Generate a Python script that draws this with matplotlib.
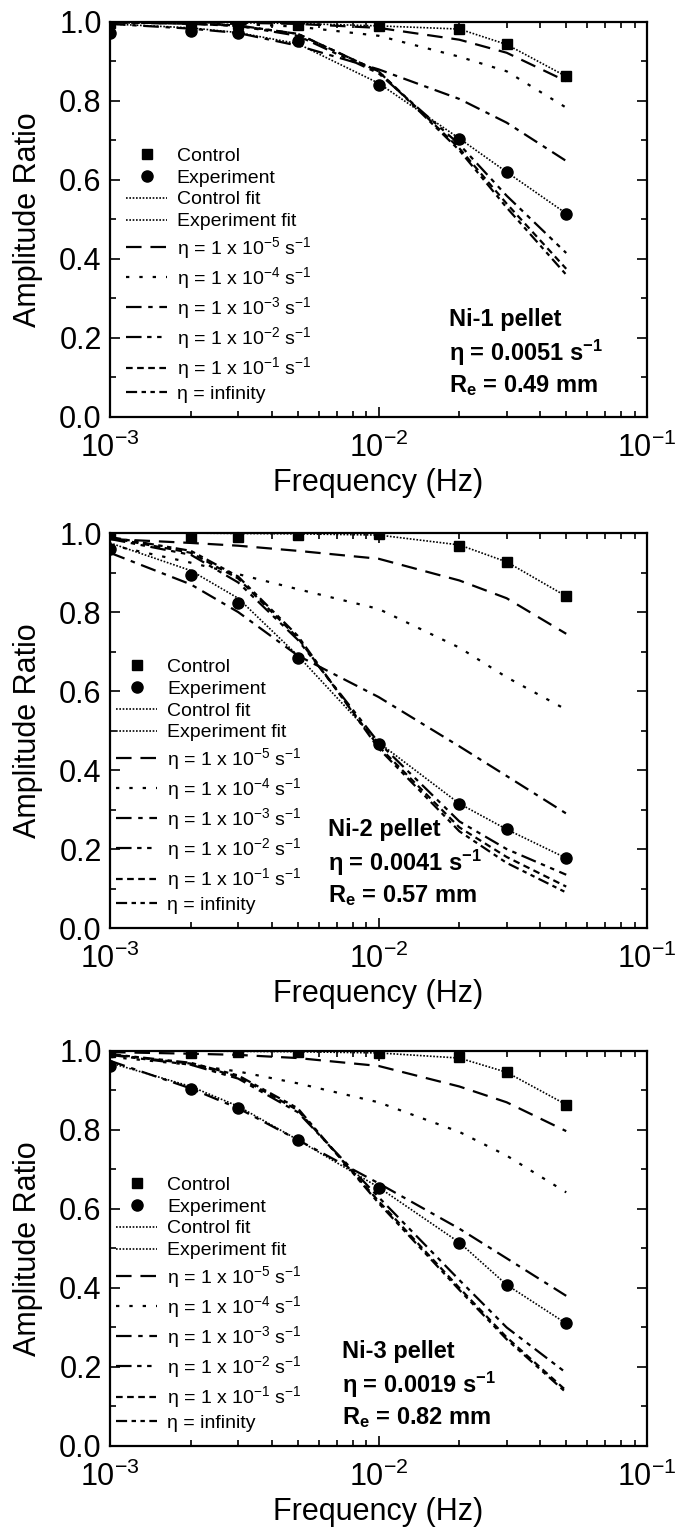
import matplotlib
matplotlib.use('Agg')
from matplotlib import pyplot as plt
from matplotlib.ticker import LogLocator, MultipleLocator, FixedLocator, FixedFormatter, NullFormatter

plt.rcParams['font.family'] = ['Liberation Sans', 'DejaVu Sans']
plt.rcParams['mathtext.fontset'] = 'custom'
plt.rcParams['mathtext.rm'] = 'Liberation Sans'
plt.rcParams['mathtext.it'] = 'Liberation Sans:italic'
plt.rcParams['mathtext.bf'] = 'Liberation Sans:bold'

freq = [0.001, 0.002, 0.003, 0.005, 0.01, 0.02, 0.03, 0.05]

# Ni-1 pellet
ni1_control = [0.998, 0.997, 0.996, 0.993, 0.99, 0.982, 0.943, 0.862]
ni1_exp = [0.972, 0.978, 0.972, 0.952, 0.84, 0.704, 0.62, 0.515]
ni1_control_fit = [1.0, 0.999, 0.998, 0.996, 0.99, 0.982, 0.943, 0.862]
ni1_exp_fit = [0.995, 0.985, 0.973, 0.945, 0.845, 0.705, 0.62, 0.515]
ni1_eta5 = [1.0, 0.999, 0.998, 0.995, 0.985, 0.955, 0.922, 0.85]
ni1_eta4 = [0.999, 0.997, 0.995, 0.988, 0.965, 0.912, 0.875, 0.783]
ni1_eta3 = [0.995, 0.983, 0.972, 0.94, 0.88, 0.805, 0.745, 0.648]
ni1_eta2 = [0.999, 0.995, 0.99, 0.965, 0.87, 0.69, 0.56, 0.415]
ni1_eta1 = [0.999, 0.996, 0.99, 0.97, 0.875, 0.68, 0.54, 0.375]
ni1_etainf = [0.999, 0.996, 0.991, 0.97, 0.875, 0.675, 0.53, 0.36]

# Ni-2 pellet
ni2_control = [0.998, 0.99, 0.99, 0.995, 0.997, 0.967, 0.927, 0.84]
ni2_exp = [0.96, 0.894, 0.822, 0.683, 0.465, 0.313, 0.25, 0.177]
ni2_control_fit = [1.0, 1.0, 0.999, 0.998, 0.995, 0.97, 0.927, 0.84]
ni2_exp_fit = [0.975, 0.905, 0.835, 0.69, 0.47, 0.315, 0.25, 0.177]
ni2_eta5 = [0.985, 0.975, 0.968, 0.955, 0.935, 0.88, 0.835, 0.745]
ni2_eta4 = [0.97, 0.925, 0.896, 0.858, 0.808, 0.71, 0.635, 0.553]
ni2_eta3 = [0.95, 0.87, 0.8, 0.69, 0.585, 0.46, 0.385, 0.29]
ni2_eta2 = [0.985, 0.945, 0.875, 0.73, 0.47, 0.27, 0.2, 0.135]
ni2_eta1 = [0.988, 0.95, 0.885, 0.735, 0.46, 0.255, 0.18, 0.105]
ni2_etainf = [0.99, 0.955, 0.89, 0.74, 0.455, 0.245, 0.165, 0.09]

# Ni-3 pellet
ni3_control = [0.998, 0.995, 0.997, 0.997, 0.995, 0.984, 0.946, 0.864]
ni3_exp = [0.961, 0.903, 0.855, 0.775, 0.653, 0.515, 0.408, 0.31]
ni3_control_fit = [1.0, 1.0, 0.999, 0.998, 0.995, 0.982, 0.946, 0.864]
ni3_exp_fit = [0.97, 0.91, 0.86, 0.775, 0.655, 0.515, 0.408, 0.31]
ni3_eta5 = [0.997, 0.993, 0.99, 0.982, 0.962, 0.91, 0.87, 0.797]
ni3_eta4 = [0.985, 0.965, 0.948, 0.918, 0.87, 0.795, 0.735, 0.642]
ni3_eta3 = [0.975, 0.905, 0.855, 0.775, 0.665, 0.55, 0.475, 0.38]
ni3_eta2 = [0.99, 0.965, 0.93, 0.845, 0.63, 0.42, 0.3, 0.185]
ni3_eta1 = [0.991, 0.968, 0.935, 0.85, 0.62, 0.4, 0.275, 0.14]
ni3_etainf = [0.992, 0.97, 0.938, 0.855, 0.615, 0.395, 0.27, 0.135]

panels = [
    ('Ni-1 pellet', '0.0051', '0.49',
     [ni1_control, ni1_exp, ni1_control_fit, ni1_exp_fit,
      ni1_eta5, ni1_eta4, ni1_eta3, ni1_eta2, ni1_eta1, ni1_etainf]),
    ('Ni-2 pellet', '0.0041', '0.57',
     [ni2_control, ni2_exp, ni2_control_fit, ni2_exp_fit,
      ni2_eta5, ni2_eta4, ni2_eta3, ni2_eta2, ni2_eta1, ni2_etainf]),
    ('Ni-3 pellet', '0.0019', '0.82',
     [ni3_control, ni3_exp, ni3_control_fit, ni3_exp_fit,
      ni3_eta5, ni3_eta4, ni3_eta3, ni3_eta2, ni3_eta1, ni3_etainf]),
]

model_labels = [r'η = 1 x 10$^{\mathregular{-5}}$ s$^{\mathregular{-1}}$',
                r'η = 1 x 10$^{\mathregular{-4}}$ s$^{\mathregular{-1}}$',
                r'η = 1 x 10$^{\mathregular{-3}}$ s$^{\mathregular{-1}}$',
                r'η = 1 x 10$^{\mathregular{-2}}$ s$^{\mathregular{-1}}$',
                r'η = 1 x 10$^{\mathregular{-1}}$ s$^{\mathregular{-1}}$',
                'η = infinity']
model_styles = [(0, (7, 4)),
                (0, (1.5, 4.5)),
                (0, (7, 3, 2, 3)),
                (0, (7, 2.5, 2, 2.5, 2, 2.5)),
                (0, (3, 2)),
                (0, (5, 2, 2, 2, 2, 2))]

fig = plt.figure(figsize=(6.75, 15.34), dpi=100)
rects = [[0.163, 0.7282, 0.7956, 0.2575],
         [0.163, 0.3950, 0.7956, 0.2575],
         [0.163, 0.0574, 0.7956, 0.2575]]
legend_x = [0.03, 0.012, 0.012]
text_x = [0.632, 0.406, 0.432]
text_y = [(0.247, 0.163, 0.079), (0.25, 0.166, 0.082), (0.24, 0.155, 0.071)]

for i, (name, eta, re, series) in enumerate(panels):
    ax = fig.add_axes(rects[i])
    control, exp, control_fit, exp_fit = series[:4]
    models = series[4:]

    ax.plot(freq, control, 's', color='black', markersize=7, label='Control', zorder=5)
    ax.plot(freq, exp, 'o', color='black', markersize=8, label='Experiment', zorder=5)
    ax.plot(freq, control_fit, color='black', lw=1.2, linestyle=(0, (1, 1)), label='Control fit')
    ax.plot(freq, exp_fit, color='black', lw=1.2, linestyle=(0, (1, 1)), label='Experiment fit')
    for vals, lab, ls in zip(models, model_labels, model_styles):
        ax.plot(freq, vals, color='black', lw=1.6, linestyle=ls, label=lab)

    ax.set_xscale('log')
    ax.set_xlim(1e-3, 1e-1)
    ax.set_ylim(0, 1.0)
    ax.xaxis.set_major_locator(FixedLocator([1e-3, 1e-2, 1e-1]))
    ax.xaxis.set_major_formatter(FixedFormatter([r'10$^{\mathregular{-3}}$',
                                                 r'10$^{\mathregular{-2}}$',
                                                 r'10$^{\mathregular{-1}}$']))
    ax.xaxis.set_minor_locator(LogLocator(base=10, subs=range(2, 10)))
    ax.xaxis.set_minor_formatter(NullFormatter())
    ax.yaxis.set_major_locator(MultipleLocator(0.2))
    ax.yaxis.set_minor_locator(MultipleLocator(0.1))
    ax.yaxis.set_major_formatter(plt.FormatStrFormatter('%.1f'))
    ax.tick_params(which='both', direction='in', top=True, right=True, width=1.2)
    ax.tick_params(which='major', length=7, labelsize=22, pad=6)
    ax.tick_params(axis='x', which='major', pad=11)
    ax.tick_params(which='minor', length=4)
    for sp in ax.spines.values():
        sp.set_linewidth(1.6)

    ax.set_xlabel('Frequency (Hz)', fontsize=22, labelpad=3)
    ax.set_ylabel('Amplitude Ratio', fontsize=22)
    ax.yaxis.set_label_coords(-0.125, 0.5)

    ax.legend(loc='lower left', bbox_to_anchor=(legend_x[i], 0.035), frameon=False,
              fontsize=14, numpoints=1, handlelength=2.1, handletextpad=0.5,
              labelspacing=0.22, borderpad=0, borderaxespad=0)

    ty = text_y[i]
    ax.text(text_x[i], ty[0], name, transform=ax.transAxes, fontsize=17,
            fontweight='bold', va='center')
    ax.text(text_x[i], ty[1], 'η = ' + eta + r' s$^{\mathbf{-1}}$', transform=ax.transAxes,
            fontsize=17, fontweight='bold', va='center')
    ax.text(text_x[i], ty[2], r'R$_{\mathbf{e}}$ = ' + re + ' mm', transform=ax.transAxes,
            fontsize=17, fontweight='bold', va='center')

fig.savefig('out.png', dpi=100)
